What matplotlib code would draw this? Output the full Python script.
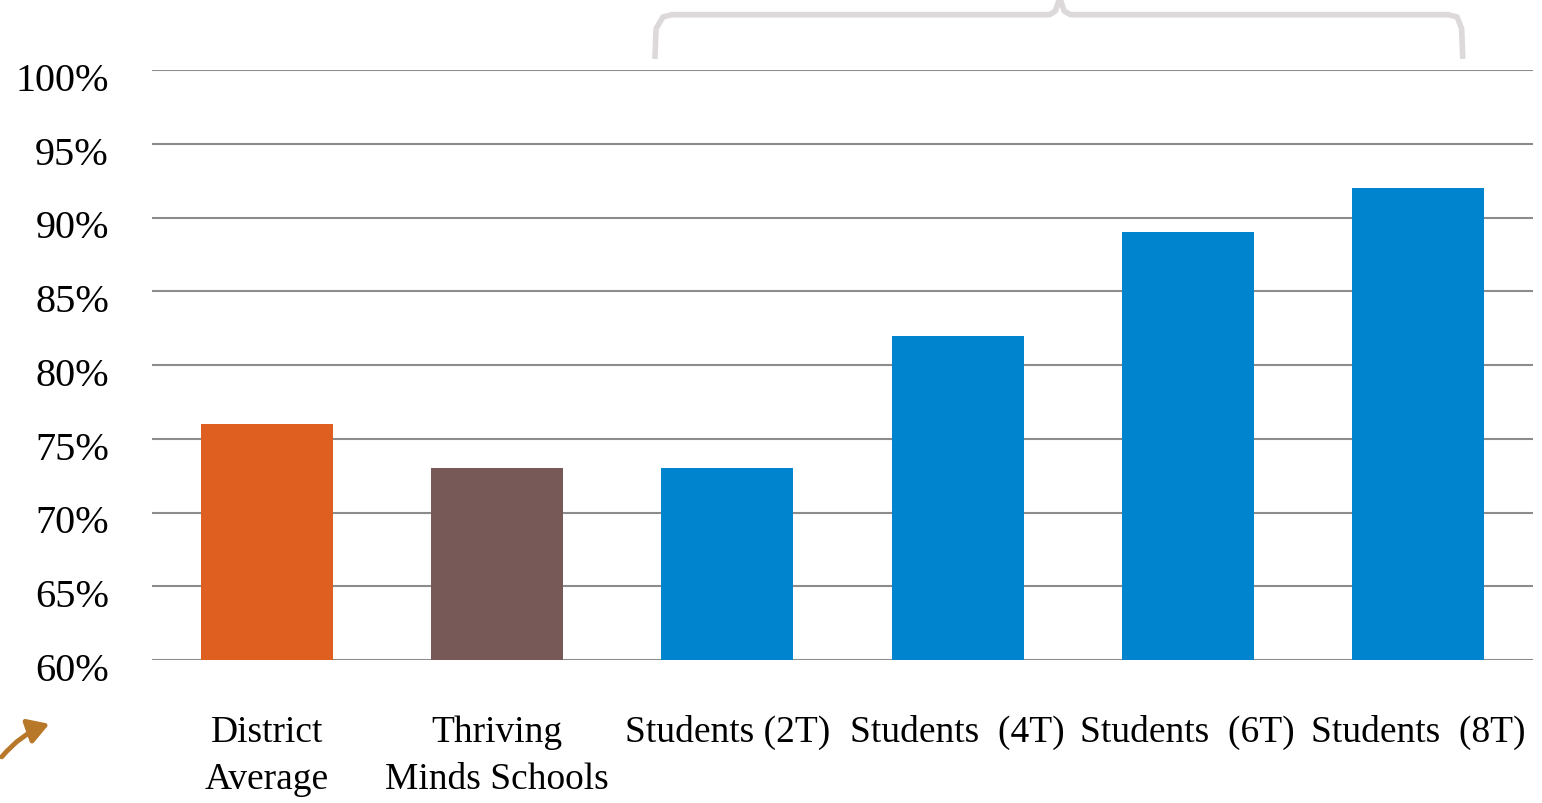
import matplotlib
matplotlib.use("Agg")
import matplotlib.pyplot as plt
import matplotlib.transforms as mtransforms
from matplotlib.patches import FancyArrowPatch
from matplotlib.lines import Line2D

categories = ["District\nAverage", "Thriving\nMinds Schools", "Students (2T)",
              "Students  (4T)", "Students  (6T)", "Students  (8T)"]
values = [76, 73, 73, 82, 89, 92]
colors = ["#DE5F1F", "#775957", "#0084CE", "#0084CE", "#0084CE", "#0084CE"]
yticks = [60, 65, 70, 75, 80, 85, 90, 95, 100]
ytick_labels = [f"{t}%" for t in yticks]

plt.rcParams['font.family'] = ['Liberation Serif', 'DejaVu Serif']

fig = plt.figure(figsize=(15.42, 8.04), dpi=100)
ax = fig.add_axes([152/1542, 1-661/804, (1533-152)/1542, (661-71)/804])

x = list(range(len(categories)))
ax.bar(x, [v - 60 for v in values], bottom=60, width=0.573, color=colors, zorder=3)
ax.set_xlim(-0.5, len(categories) - 0.5)
ax.set_ylim(60, 100)
ax.set_yticks(yticks)
ax.set_yticklabels(ytick_labels, fontsize=29)
ax.set_xticks(x)
ax.set_xticklabels(categories, fontsize=27, linespacing=1.5)
ax.tick_params(axis='y', length=0, pad=31)
ax.tick_params(axis='x', length=0, pad=39)
offset = mtransforms.ScaledTranslation(0, -6/100, fig.dpi_scale_trans)
for lbl in ax.get_yticklabels():
    lbl.set_transform(lbl.get_transform() + offset)
for s in ax.spines.values():
    s.set_visible(False)
ax.yaxis.grid(True, color="#8C8C8C", linewidth=1.5, zorder=0)
ax.set_axisbelow(True)

# bracket above the student bars
bx = [1.685, 1.69, 1.72, 1.76, 3.40, 3.425, 3.444, 3.463, 3.49, 5.13, 5.17, 5.19, 5.195]
by = [100.75, 102.8, 103.6, 103.75, 103.75, 104.0, 104.9, 104.0, 103.75, 103.75, 103.6, 102.8, 100.75]
ax.add_line(Line2D(bx, by, color="#DDD8D9", linewidth=4, clip_on=False,
                   solid_joinstyle='round', solid_capstyle='butt'))

# small arrow at bottom-left
arr = FancyArrowPatch((0/1542, 1-760/804), (52/1542, 1-724/804),
                      transform=fig.transFigure, connectionstyle="arc3,rad=-0.15",
                      arrowstyle="-|>,head_length=5,head_width=3", color="#B8782A",
                      linewidth=3.5, mutation_scale=2.5)
fig.patches.append(arr)

fig.savefig("out.png", dpi=100)
